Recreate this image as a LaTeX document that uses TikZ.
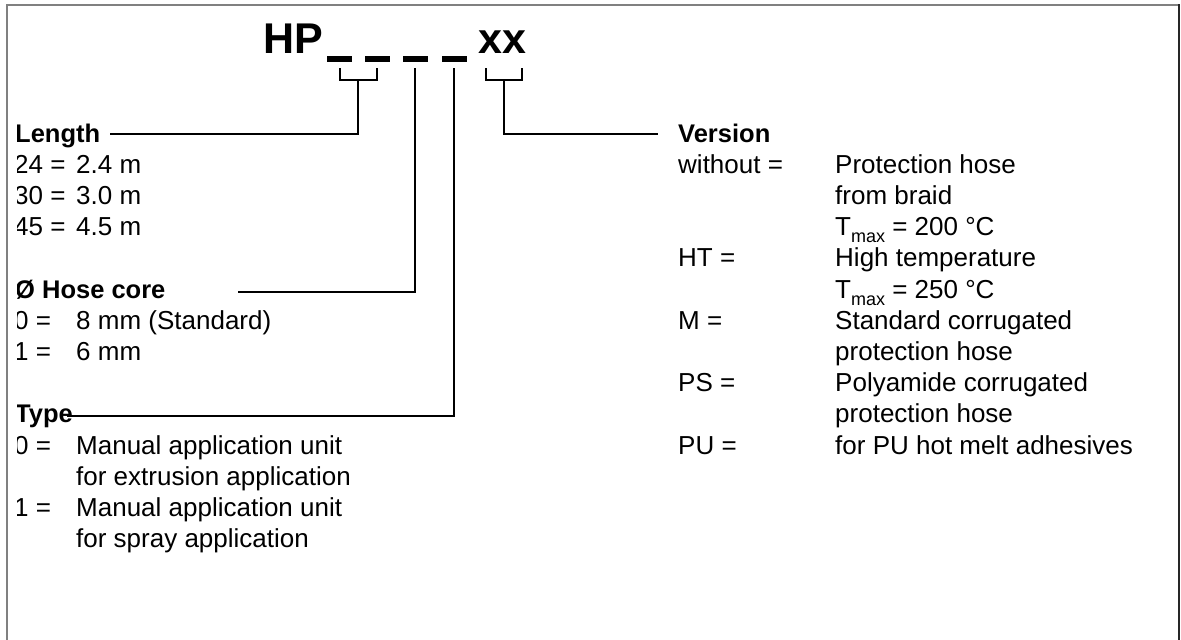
\documentclass[tikz,border=0pt]{standalone}
\usepackage{fontspec}
\setmainfont{Liberation Sans}
\usetikzlibrary{positioning}

\newcommand{\entry}[3][62pt]{\makebox[#1][l]{#2}#3}
\newcommand{\Tmax}{T\raisebox{-7pt}{\fontsize{18}{18}\selectfont max}}

\begin{document}
\begin{tikzpicture}[x=1pt, y=-1pt,
  txt/.style={anchor=base west, inner sep=0pt, font=\fontsize{26}{31}\selectfont},
  head/.style={txt, font=\fontsize{25.5}{31}\selectfont\bfseries},
  code/.style={anchor=base west, inner sep=0pt, font=\fontsize{43}{43}\selectfont\bfseries},
  slot/.style={fill=black, inner sep=0pt, minimum width=25pt, minimum height=6pt},
  lead/.style={line width=2pt}
]
\useasboundingbox (0,0) rectangle (1181,640);
% frame
\draw[line width=2pt, gray] (7,640) -- (7,5) -- (1178,5);
\draw[line width=2pt, black!85] (1179,4) -- (1179,640);

\begin{scope}
\clip (17,0) rectangle (1181,640);

% order code
\node[code] (hp) at (263,53) {HP};
\node[code] (xx) at (478,53) {xx};
\node[slot] (s1) at (339.5,59) {};
\node[slot] (s2) at (377,59) {};
\node[slot] (s3) at (415,59) {};
\node[slot] (s4) at (454,59) {};

% length
\node[head] (lenhead) at (15,142) {Length};
\node[txt] (len24) at (14,173.2) {\entry{24 =}{2.4 m}};
\node[txt] (len30) at (14,204.4) {\entry{30 =}{3.0 m}};
\node[txt] (len45) at (14,235.6) {\entry{45 =}{4.5 m}};

% hose core
\node[head] (corehead) at (15,298) {Ø Hose core};
\node[txt] (core0) at (14,329.2) {\entry{0 =}{8 mm (Standard)}};
\node[txt] (core1) at (14,360.4) {\entry{1 =}{6 mm}};

% type
\node[head] (typehead) at (15,422.8) {Type};
\node[txt] (type0) at (14,454) {\entry{0 =}{Manual application unit}};
\node[txt] (type0b) at (76,485.2) {for extrusion application};
\node[txt] (type1) at (14,516.4) {\entry{1 =}{Manual application unit}};
\node[txt] (type1b) at (76,547.6) {for spray application};

% version
\node[head] (verhead) at (678,142) {Version};
\node[txt] (verA) at (678,173.2) {\entry[157pt]{without =}{Protection hose}};
\node[txt] (verA2) at (835,204.4) {from braid};
\node[txt] (verA3) at (835,235.6) {\Tmax{} = 200 °C};
\node[txt] (verHT) at (678,266.8) {\entry[157pt]{HT =}{High temperature}};
\node[txt] (verHT2) at (835,298) {\Tmax{} = 250 °C};
\node[txt] (verM) at (678,329.2) {\entry[157pt]{M =}{Standard corrugated}};
\node[txt] (verM2) at (835,360.4) {protection hose};
\node[txt] (verPS) at (678,391.6) {\entry[157pt]{PS =}{Polyamide corrugated}};
\node[txt] (verPS2) at (835,422.8) {protection hose};
\node[txt] (verPU) at (678,454) {\entry[157pt]{PU =}{for PU hot melt adhesives}};

% leader lines
\coordinate (b12) at (358,80);
\coordinate (lenfree) at (110,134);
\coordinate (corefree) at (238,292);
\coordinate (typefree) at (67,416);
\coordinate (xl) at (486,68);
\coordinate (xr) at (522,68);
\coordinate (bxx) at (504,80);
\coordinate (verfree) at (658,134);
\draw[lead] ([yshift=-6pt]s1.south) -- ++(0,12) -| ([yshift=-6pt]s2.south);
\draw[lead] (lenfree) -| (b12);
\draw[lead] (corefree) -| ([yshift=-6pt]s3.south);
\draw[lead] (typefree) -| ([yshift=-6pt]s4.south);
\draw[lead] (xl) -- ++(0,12) -| (xr);
\draw[lead] (bxx) |- (verfree);
\end{scope}
\end{tikzpicture}
\end{document}
